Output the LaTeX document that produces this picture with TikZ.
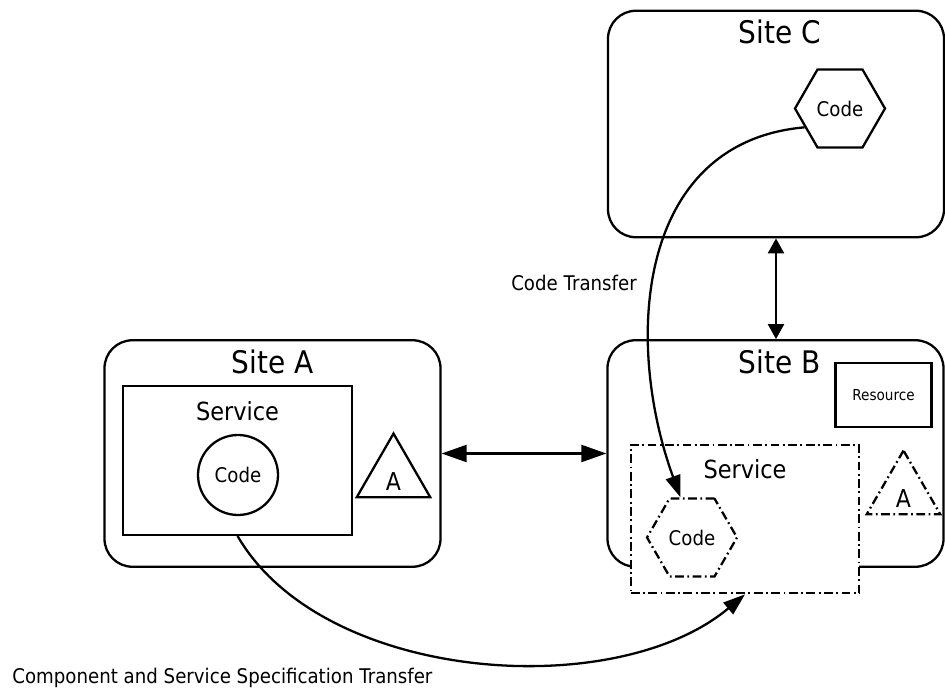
\documentclass[tikz,border=0pt]{standalone}
\usepackage{fontspec}
\setmainfont{DejaVu Sans}[FakeStretch=0.9]
\usetikzlibrary{arrows.meta,positioning,shapes.geometric}
\tikzset{
  site/.style={draw, rounded corners=0.56cm, minimum width=6.72cm, minimum height=4.53cm, line width=1.3pt},
  sitettl/.style={inner sep=0pt, font=\fontsize{17.7}{20}\selectfont},
  svc/.style={draw, fill=white, minimum width=4.57cm, minimum height=2.97cm, line width=1.3pt},
  svcttl/.style={inner sep=0pt, font=\fontsize{14.2}{17}\selectfont},
  res/.style={draw, minimum width=1.92cm, minimum height=1.28cm, line width=1.3pt, font=\fontsize{8.6}{10}\selectfont},
  dd/.style={dash pattern=on 5pt off 2pt on 1pt off 2pt},
  codehex/.style={draw, fill=white, regular polygon, regular polygon sides=6, minimum size=1.8cm, inner sep=0pt, line width=1.3pt, font=\fontsize{11.5}{14}\selectfont},
  codecirc/.style={draw, circle, minimum size=1.6cm, inner sep=0pt, line width=1.3pt, font=\fontsize{11.5}{14}\selectfont},
  agent/.style={draw, regular polygon, regular polygon sides=3, minimum size=1.6cm, inner sep=0pt, text height=0.6cm, text depth=0pt, line width=1.3pt, font=\fontsize{14}{16}\selectfont},
  lbl/.style={inner sep=0pt, font=\fontsize{11.5}{14}\selectfont},
  dbl/.style={{Triangle[length=5mm,width=3.4mm]}-{Triangle[length=5mm,width=3.4mm]}, line width=1.3pt},
  dblv/.style={{Triangle[length=3mm,width=3.2mm]}-{Triangle[length=3mm,width=3.2mm]}, line width=1.3pt},
  arr/.style={-{Triangle[length=4.4mm,width=3mm]}, line width=1.3pt}
}

\begin{document}
\begin{tikzpicture}
  \useasboundingbox (0,0) rectangle (18.9,13.88);
  % the three sites
  \node[site] (siteA) at (5.45,4.81) {};
  \node[site] (siteB) at (15.51,4.81) {};
  \node[site] (siteC) at (15.52,11.40) {};
  \node[sitettl, below=0.2cm of siteA.north] (ttlA) {Site A};
  \node[sitettl, below=0.2cm of siteB.north, xshift=0.08cm] (ttlB) {Site B};
  \node[sitettl, below=0.2cm of siteC.north, xshift=0.08cm] (ttlC) {Site C};
  % site A
  \node[svc] (svcA) at (4.75,4.67) {};
  \node[svcttl, below=0.32cm of svcA.north] (svcttlA) {Service};
  \node[codecirc] (codeA) at (4.76,4.38) {Code};
  \node[agent] (agA) at (7.87,4.36) {A};
  % site B
  \node[res, below left=0.46cm and 0.24cm of siteB.north east] (res) {Resource};
  \node[svc, dd] (svcB) at (14.9,3.5) {};
  \node[svcttl, below=0.32cm of svcB.north] (svcttlB) {Service};
  \node[codehex, dd] (codeB) at (13.84,3.13) {Code};
  \node[agent, dd] (agB) at (18.07,4.02) {A};
  % site C
  \node[codehex] (codeC) at (16.8,11.71) {Code};
  % links between sites
  \draw[dbl] (siteA) -- (siteB);
  \draw[dblv] (siteC.south) -- (siteC.south |- siteB.north);
  % transfers
  \draw[arr] (codeC.208) to[out=185, in=110, looseness=1.1] (codeB.106);
  \node[lbl] (lblcode) at (11.48,8.22) {Code Transfer};
  \draw[arr] (svcA.south) to[out=-60, in=220, looseness=0.85] (svcB.south);
  \node[lbl, anchor=west] (lblspec) at (0.24,0.32) {Component and Service Specification Transfer};
\end{tikzpicture}
\end{document}
